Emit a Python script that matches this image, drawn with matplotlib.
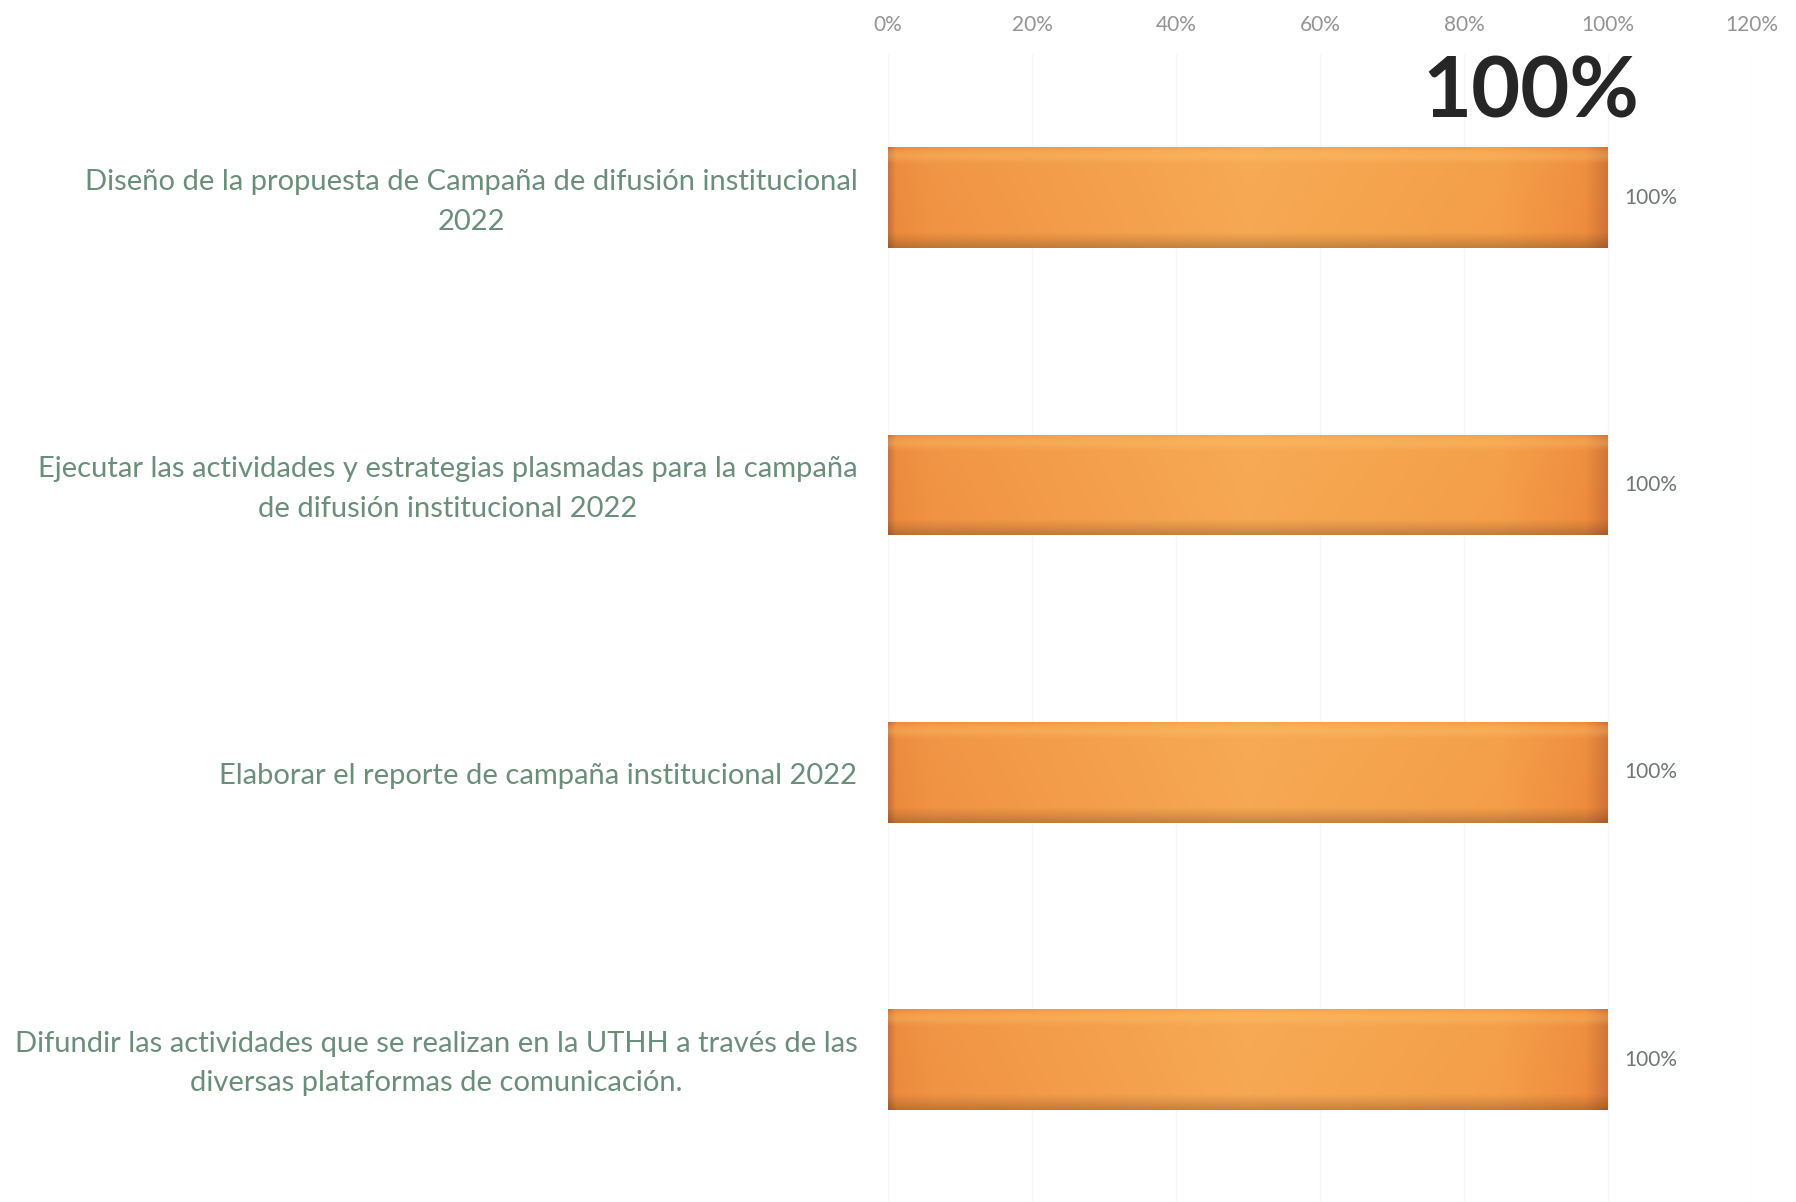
import numpy as np
import matplotlib
matplotlib.use("Agg")
import matplotlib.pyplot as plt
from matplotlib.colors import to_rgb
from matplotlib.ticker import PercentFormatter

categories = [
    "Diseño de la propuesta de Campaña de difusión institucional\n2022",
    "Ejecutar las actividades y estrategias plasmadas para la campaña\nde difusión institucional 2022",
    "Elaborar el reporte de campaña institucional 2022",
    "Difundir las actividades que se realizan en la UTHH a través de las\ndiversas plataformas de comunicación.",
]
values = [1.0, 1.0, 1.0, 1.0]
value_labels = ["100%", "100%", "100%", "100%"]
xticks = [0, 0.2, 0.4, 0.6, 0.8, 1.0, 1.2]
headline = "100%"

plt.rcParams['font.family'] = ['Lato', 'DejaVu Sans']

fig = plt.figure(figsize=(17.96, 12.02), dpi=100)
ax = fig.add_axes([888 / 1796, -0.001, (1752 - 888) / 1796, 1 - 54 / 1202 + 0.001])

ypos = np.arange(len(categories))
bars = ax.barh(ypos, values, height=0.35, color='#f29a46', zorder=2)

# gradient fill for the bars (lighter in the middle, bevelled edges)
def bar_gradient(nh=60, nw=400):
    hx = np.linspace(0, 1, nw)
    stops = [0, 0.01, 0.06, 0.5, 0.85, 0.97, 1.0]
    cols = [to_rgb(c) for c in ['#c9703a', '#ec8a3c', '#f09343', '#f7a852', '#f49e49', '#ee8c3d', '#cf7238']]
    row = np.stack([np.interp(hx, stops, [c[i] for c in cols]) for i in range(3)], axis=-1)
    img = np.repeat(row[None, :, :], nh, axis=0)
    vy = np.linspace(0, 1, nh)
    light = np.interp(vy, [0, 0.04, 0.09, 0.16, 0.85, 0.93, 1.0], [0.0, 0.22, 0.3, 0.04, 0.0, -0.1, -0.2])
    for i in range(nh):
        if light[i] >= 0:
            img[i] = img[i] + (np.array(to_rgb('#ffd27a')) - img[i]) * light[i]
        else:
            img[i] = img[i] * (1 + light[i])
    return np.clip(img, 0, 1)

grad = bar_gradient()
for b in bars:
    x0, y0, w, h = b.get_x(), b.get_y(), b.get_width(), b.get_height()
    im = ax.imshow(grad, extent=(x0, x0 + w, y0 + h, y0), aspect='auto', zorder=3,
                   interpolation='bilinear')
    im.set_clip_path(b)

for y, v, lab in zip(ypos, values, value_labels):
    ax.annotate(lab, (v, y), xytext=(12, 0), textcoords='offset points',
                va='center', ha='left', fontsize=15, color='#707773')

# category labels, right aligned next to the axis, lines centred
for y, cat in zip(ypos, categories):
    ax.annotate(cat, (0, y), xycoords=('axes fraction', 'data'),
                xytext=(-22, -3), textcoords='offset points',
                ha='right', va='center', multialignment='center',
                fontsize=21, color='#6b8e7a', linespacing=1.64)

ax.set_xlim(0, 1.2)
ax.set_ylim(len(categories) - 0.5, -0.5)
ax.set_xticks(xticks)
ax.xaxis.set_major_formatter(PercentFormatter(1.0, decimals=0))
ax.xaxis.tick_top()
ax.tick_params(axis='x', length=0, pad=14, labelsize=15, labelcolor='#949494')
ax.set_yticks([])
ax.grid(axis='x', color='#f6f6f6', linewidth=1, zorder=0)
ax.set_axisbelow(True)
for s in ax.spines.values():
    s.set_visible(False)

fig.text(1531 / 1796, 1 - 118 / 1202, headline, ha='center', va='baseline',
         fontsize=61, fontweight='bold', color='#262626')

fig.savefig("out.png", dpi=100, facecolor='white')
